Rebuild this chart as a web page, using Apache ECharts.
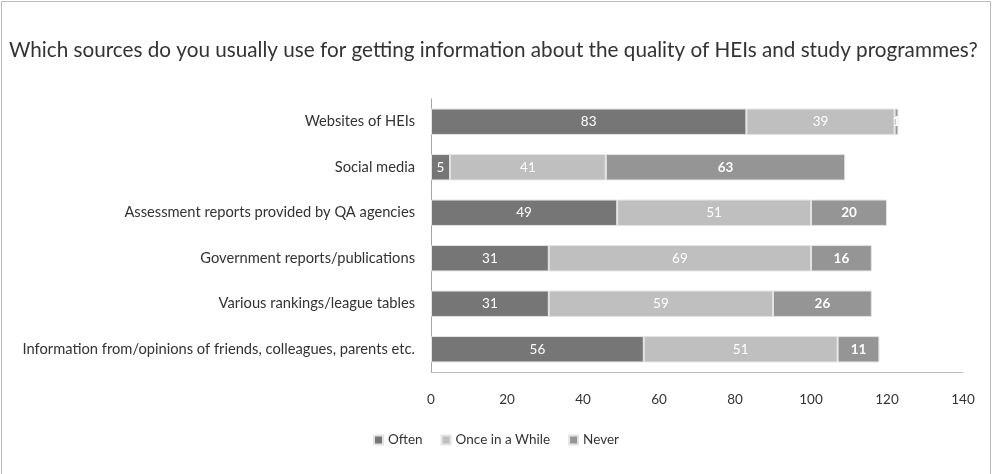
<!DOCTYPE html>
<html><head><meta charset="utf-8">
<script src="https://cdn.jsdelivr.net/npm/echarts@6/dist/echarts.min.js"></script>
<style>html,body{margin:0;padding:0;background:#fff}#c{width:992px;height:474px}</style>
</head><body><div id="c"></div>
<script>
const categories = ["Websites of HEIs","Social media","Assessment reports provided by QA agencies","Government reports/publications","Various rankings/league tables","Information from/opinions of friends, colleagues, parents etc."];
const often = [83,5,49,31,31,56];
const onceInAWhile = [39,41,51,69,59,51];
const never = [1,63,20,16,26,11];
const xTicks = [0,20,40,60,80,100,120,140];
const titleText = "Which sources do you usually use for getting information about the quality of HEIs and study programmes?";

const chart = echarts.init(document.getElementById('c'));
const F = 'Lato, "Open Sans", sans-serif';
function ser(name, data, color, bold){
  return {name, type:'bar', stack:'s', data, barCategoryGap:'42%',
    itemStyle:{color, borderColor:'#e3e3e3', borderWidth:1},
    label:{show:true, position:'inside', color:'#fff', fontFamily:F, fontSize:13.5, fontWeight: bold?'bold':'normal'},
    emphasis:{disabled:true}};
}
chart.setOption({
  animation:false,
  title:{text:titleText, left:4, top:35, textStyle:{fontFamily:F, fontSize:20.7, fontWeight:'normal', color:'#333'}},
  legend:{data:['Often','Once in a While','Never'], left:'center', top:428, itemWidth:9, itemHeight:9, itemGap:18,
    icon:'rect', textStyle:{fontFamily:F, fontSize:13.5, color:'#333'}},
  grid:{left:431, right:29, top:99, bottom:102, containLabel:false},
  xAxis:{type:'value', min:0, max:140, interval:20,
    axisLine:{show:true, lineStyle:{color:'#bfbfbf', width:1}}, axisTick:{show:false}, splitLine:{show:false},
    axisLabel:{color:'#333', fontFamily:F, fontSize:13.5, margin:21, formatter:v=>xTicks.includes(v)?String(v):''}},
  yAxis:{type:'category', data:categories, inverse:true,
    axisLine:{show:true, lineStyle:{color:'#a6a6a6', width:1}}, axisTick:{show:false},
    axisLabel:{color:'#333', fontFamily:F, fontSize:14.7, margin:16}},
  series:[ser('Often', often, '#767676', false), ser('Once in a While', onceInAWhile, '#bfbfbf', false), ser('Never', never, '#959595', true)],
  graphic:[{type:'rect', shape:{x:1.5, y:1.5, width:989, height:480}, style:{fill:null, stroke:'#bdbdbd', lineWidth:1}, silent:true}]
});
</script></body></html>
